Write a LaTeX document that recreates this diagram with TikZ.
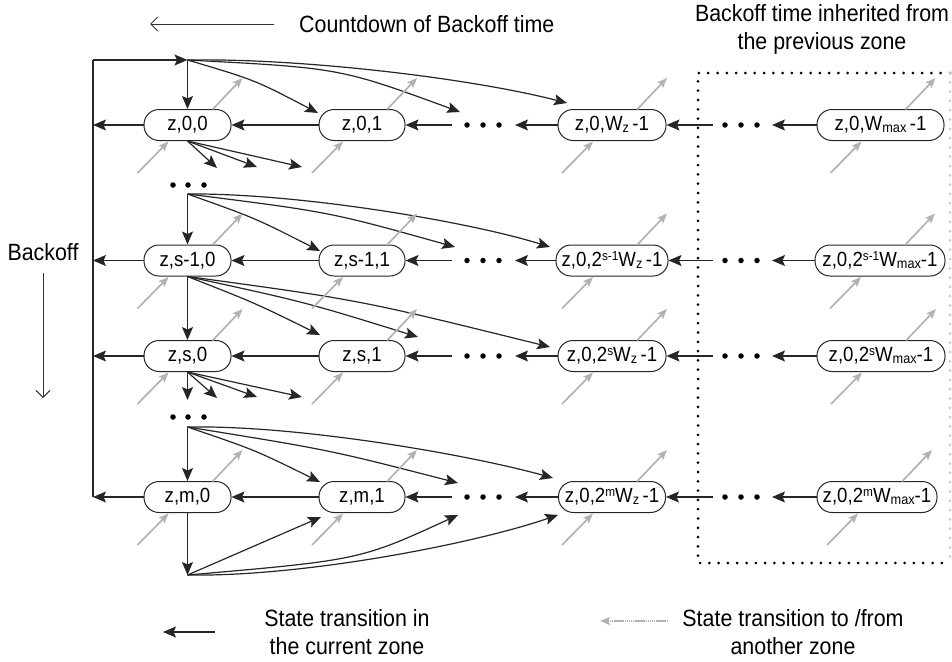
\documentclass[tikz,border=0pt]{standalone}
\usepackage{fontspec}
\setmainfont{Liberation Sans}[FakeStretch=0.91]
\usetikzlibrary{arrows.meta,calc}
\newcommand\mysup[1]{\raisebox{6.5pt}{\fontsize{13}{13}\selectfont #1}}
\newcommand\mysub[1]{\raisebox{-1.5pt}{\fontsize{14}{14}\selectfont #1}}
\begin{document}
\begin{tikzpicture}[x=1pt,y=-1pt,
  st/.style={draw=black!85, line width=1pt, rounded corners=15pt, minimum height=31pt, inner xsep=0pt, inner ysep=0pt, font=\fontsize{20.5}{22}\selectfont},
  ln/.style={draw=black!85, line width=1.2pt},
  blk/.style={ln, -{Stealth[length=13pt,width=11pt,inset=2.5pt]}},
  gry/.style={draw=black!30, line width=1.7pt, -{Stealth[length=10pt,width=8pt,inset=2pt]}},
  dotr/.style={draw=black, line width=3pt, dash pattern=on 0pt off 9.3pt, line cap=round},
  lbl/.style={font=\fontsize{23.5}{28}\selectfont, align=center, inner sep=0pt},
  thinarr/.style={draw=black!80, line width=0.9pt, -{Straight Barb[length=7pt,width=14pt]}},
  dt/.style={circle, fill=black, inner sep=0pt, minimum size=5.5pt}
]
\useasboundingbox (0,0) rectangle (952,661);

% dotted region
\coordinate (bx1) at (698,73);
\coordinate (bx2) at (950,73);
\coordinate (bx3) at (950,563);
\coordinate (bx4) at (698,563);
\draw[dotr] (bx2) -- (bx1) -- (bx4) -- (bx3);
\draw[dotr, draw=black!20] (bx2) -- (bx3);

% states
\node[st, minimum width=87pt] (n00) at (187.5,125) {z,0,0};
\node[st, minimum width=86pt] (n01) at (362,125) {z,0,1};
\node[st, minimum width=108pt] (n0W) at (612,125) {z,0,W\mysub{z}\,-1};
\node[st, minimum width=127pt] (n0M) at (880.5,125) {z,0,W\mysub{max}\,-1};

\node[st, minimum width=87pt] (n10) at (187.5,260.5) {z,s-1,0};
\node[st, minimum width=86pt] (n11) at (362,260.5) {z,s-1,1};
\node[st, minimum width=112pt] (n1W) at (612,260.5) {z,0,2\mysup{s-1}W\mysub{z}\,-1};
\node[st, minimum width=130pt] (n1M) at (880,260.5) {z,0,2\mysup{s-1}W\mysub{max}-1};

\node[st, minimum width=87pt] (n20) at (187.5,356) {z,s,0};
\node[st, minimum width=86pt] (n21) at (362,356) {z,s,1};
\node[st, minimum width=108pt] (n2W) at (612,356) {z,0,2\mysup{s}W\mysub{z}\,-1};
\node[st, minimum width=128pt] (n2M) at (881,356) {z,0,2\mysup{s}W\mysub{max}-1};

\node[st, minimum width=87pt] (n30) at (187.5,497) {z,m,0};
\node[st, minimum width=86pt] (n31) at (362,497) {z,m,1};
\node[st, minimum width=107pt] (n3W) at (612,497) {z,0,2\mysup{m}W\mysub{z}\,-1};
\node[st, minimum width=120pt] (n3M) at (877,497) {z,0,2\mysup{m}W\mysub{max}-1};

% ellipsis dots in rows
\foreach \r/\y in {0/125,1/260.5,2/356,3/497}{
  \node[dt] (dm\r a) at (467,\y) {};
  \node[dt] (dm\r b) at (483,\y) {};
  \node[dt] (dm\r c) at (499,\y) {};
  \node[dt] (dr\r a) at (725,\y) {};
  \node[dt] (dr\r b) at (741,\y) {};
  \node[dt] (dr\r c) at (757,\y) {};
  \coordinate (l\r) at (93,\y);
  \coordinate (a\r) at (452,\y);
  \coordinate (b\r) at (515,\y);
  \coordinate (c\r) at (713,\y);
  \coordinate (e\r) at (772,\y);
}
% vertical ellipsis dots
\node[dt] (dv1a) at (173,185) {};
\node[dt] (dv1b) at (188,185) {};
\node[dt] (dv1c) at (204,185) {};
\node[dt] (dv2a) at (173,417) {};
\node[dt] (dv2b) at (188,417) {};
\node[dt] (dv2c) at (204,417) {};

% horizontal countdown arrows
\foreach \r in {0,1,2,3}{
  \draw[blk] (n\r0.west) -- (l\r);
  \draw[blk] (n\r1.west) -- (n\r0.east);
  \draw[blk] (a\r) -- (n\r1.east);
  \draw[blk] (n\r W.west) -- (b\r);
  \draw[blk] (c\r) -- (n\r W.east);
  \draw[blk] (n\r M.west) -- (e\r);
}

% left bar
\coordinate (bt) at (93,60);
\coordinate (j0) at (187.5,60);
\coordinate (j1) at (187.5,194);
\coordinate (j3) at (187.5,427);
\coordinate (jb) at (187.5,575);
\draw[ln] (l3) -- (bt);
\draw[blk] (bt) -- (j0);

% row 1 from j0
\coordinate (t01) at (318,113);
\coordinate (t02) at (460,112);
\coordinate (t03) at (567,103);
\draw[blk] (j0) -- (n00.north);
\draw[blk] (j0) .. controls (255,80) .. (t01);
\draw[blk] (j0) .. controls (340,68) .. (t02);
\draw[blk] (j0) .. controls (300,58) and (470,78) .. (t03);

% fan below z,0,0
\coordinate (f01) at (217,168);
\coordinate (f02) at (257,167);
\coordinate (f03) at (302,167);
\draw[blk] (n00.south) -- (f01);
\draw[blk] (n00.south) -- (f02);
\draw[blk] (n00.south) -- (f03);

% row 2 from j1
\coordinate (t11) at (320,251);
\coordinate (t12) at (455,247);
\coordinate (t13) at (550,247);
\draw[blk] (j1) -- (n10.north);
\draw[blk] (j1) .. controls (255,218) .. (t11);
\draw[blk] (j1) .. controls (330,212) .. (t12);
\draw[blk] (j1) .. controls (300,193) and (470,222) .. (t13);

% row 3 from z,s-1,0
\coordinate (t21) at (320,335);
\coordinate (t22) at (418,337);
\coordinate (t23) at (550,347);
\draw[blk] (n10.south) -- (n20.north);
\draw[blk] (n10.south) .. controls (255,303) .. (t21);
\draw[blk] (n10.south) .. controls (305,302) .. (t22);
\draw[blk] (n10.south) .. controls (360,300) .. (t23);

% fan below z,s,0
\coordinate (f21) at (217,398);
\coordinate (f22) at (257,397);
\coordinate (f23) at (302,397);
\coordinate (d2) at (187.5,400);
\draw[blk] (n20.south) -- (d2);
\draw[blk] (n20.south) -- (f21);
\draw[blk] (n20.south) -- (f22);
\draw[blk] (n20.south) -- (f23);

% row 4 from j3
\coordinate (t31) at (320,482);
\coordinate (t32) at (458,483);
\coordinate (t33) at (553,478);
\draw[blk] (j3) -- (n30.north);
\draw[blk] (j3) .. controls (255,450) .. (t31);
\draw[blk] (j3) .. controls (330,450) .. (t32);
\draw[blk] (j3) .. controls (300,425) and (470,455) .. (t33);

% bottom
\coordinate (t41) at (321,517);
\coordinate (t42) at (458,515);
\coordinate (t43) at (558,515);
\draw[blk] (n30.south) -- (jb);
\draw[blk] (jb) -- (t41);
\draw[blk] (jb) .. controls (360,560) .. (t42);
\draw[blk] (jb) .. controls (300,577) and (470,545) .. (t43);

% gray inter-zone arrows
\foreach \n in {n00,n01,n0W,n0M,n10,n11,n1W,n1M,n20,n21,n2W,n2M,n30,n31,n3W,n3M}{
  \draw[gry] ($(\n.center)+(-50,48)$) -- ($(\n.center)+(-19,16.5)$);
  \draw[gry] ($(\n.center)+(25,-15.5)$) -- ($(\n.center)+(55,-47)$);
}

% labels
\coordinate (ca1) at (274,24);
\coordinate (ca2) at (150,24);
\draw[thinarr] (ca1) -- (ca2);
\node[lbl, anchor=west] (cd) at (299,24) {Countdown of Backoff time};
\node[lbl] (bo) at (43,252) {Backoff};
\coordinate (ba1) at (43,273);
\coordinate (ba2) at (43,398);
\draw[thinarr] (ba1) -- (ba2);
\node[lbl] (inh) at (822,29) {Backoff time inherited from\\the previous zone};

% legend
\coordinate (lg1) at (215,632);
\coordinate (lg2) at (163,632);
\draw[blk] (lg1) -- (lg2);
\node[lbl] (lgt1) at (347,632) {State transition in\\the current zone};
\coordinate (lg3) at (668,621);
\coordinate (lg4) at (600,621);
\draw[gry, dash pattern=on 1.5pt off 0.6pt] (lg3) -- (lg4);
\node[lbl] (lgt2) at (793,632) {State transition to /from\\another zone};
\end{tikzpicture}
\end{document}
